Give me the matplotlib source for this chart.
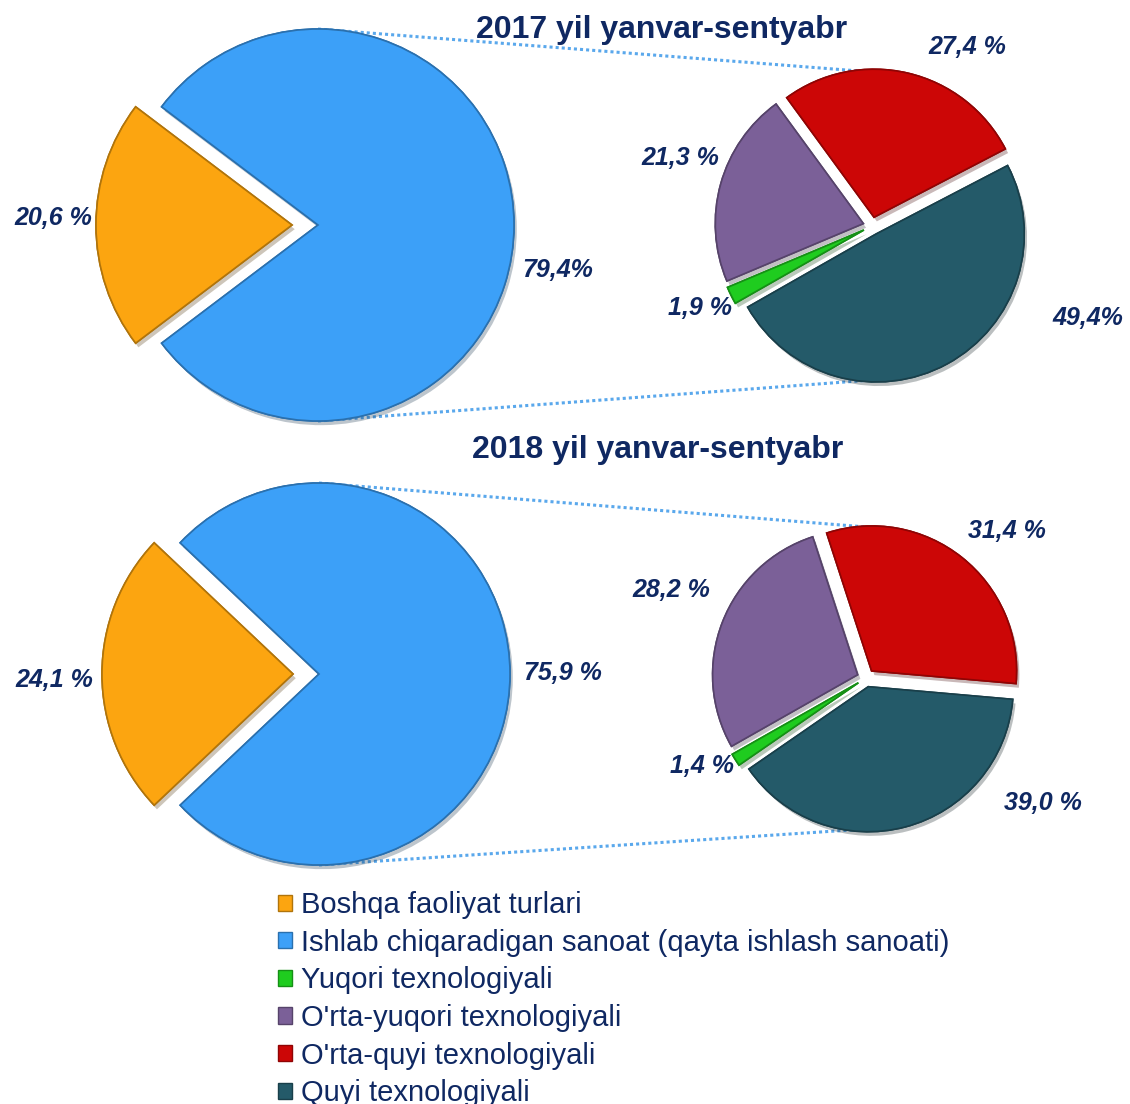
import matplotlib

matplotlib.use("Agg")
import matplotlib.pyplot as plt
import matplotlib.patheffects as pe
from matplotlib.colors import to_rgb
from matplotlib.patches import Patch

plt.rcParams["font.family"] = ["Liberation Sans", "DejaVu Sans"]

# --- data -------------------------------------------------------------
TITLES = ["2017 yil yanvar-sentyabr", "2018 yil yanvar-sentyabr"]

# main pie: [Boshqa faoliyat turlari, Ishlab chiqaradigan sanoat]
MAIN_2017 = [20.6, 79.4]
MAIN_2018 = [24.1, 75.9]
MAIN_LABELS_2017 = ["20,6 %", "79,4%"]
MAIN_LABELS_2018 = ["24,1 %", "75,9 %"]

# breakdown of manufacturing: [O'rta-quyi, O'rta-yuqori, Yuqori, Quyi]
SUB_2017 = [27.4, 21.3, 1.9, 49.4]
SUB_2018 = [31.4, 28.2, 1.4, 39.0]
SUB_LABELS_2017 = ["27,4 %", "21,3 %", "1,9 %", "49,4%"]
SUB_LABELS_2018 = ["31,4 %", "28,2 %", "1,4 %", "39,0 %"]

LEGEND = ["Boshqa faoliyat turlari",
          "Ishlab chiqaradigan sanoat (qayta ishlash sanoati)",
          "Yuqori texnologiyali",
          "O'rta-yuqori texnologiyali",
          "O'rta-quyi texnologiyali",
          "Quyi texnologiyali"]

# --- style ------------------------------------------------------------
ORANGE, BLUE, GREEN = "#fca510", "#3ca0f8", "#1fcc1f"
PURPLE, RED, TEAL = "#7b6098", "#cc0606", "#245a69"
NAVY = "#0f2862"
LINE = "#5aa8ec"
W, H = 1130, 1104


def Y(y):
    """pixel row (top-down) -> data y (bottom-up)"""
    return H - y


def darker(c, f=0.7):
    return tuple(v * f for v in to_rgb(c))


fig = plt.figure(figsize=(W / 100, H / 100), dpi=100)
ax = fig.add_axes([0, 0, 1, 1])

SHADOW = [pe.withSimplePatchShadow(offset=(2, -3), alpha=0.28), pe.Normal()]


def draw_pair(main, main_lbl, sub, sub_lbl, title, big, small, title_xy,
              main_pos, sub_pos, start_sub):
    (bx, by, br), (sx, sy, sr) = big, small
    # connector lines (top and bottom of both pies)
    ax.plot([bx, sx], [Y(by) + br, Y(sy) + sr + 6], ls=(0, (1, 1)), lw=2.2,
            color=LINE, zorder=1)
    ax.plot([bx, sx], [Y(by) - br, Y(sy) - sr - 6], ls=(0, (1, 1)), lw=2.2,
            color=LINE, zorder=1)

    # pie explode offsets are in data units (pixels here)
    start_main = 180 - main[0] * 3.6 / 2
    w1, _ = ax.pie(main, colors=[ORANGE, BLUE], radius=br, center=(bx, Y(by)),
                   startangle=start_main, explode=[26, 0], frame=True,
                   wedgeprops=dict(linewidth=1.2))
    w2, _ = ax.pie(sub, colors=[RED, PURPLE, GREEN, TEAL], radius=sr,
                   center=(sx, Y(sy)), startangle=start_sub,
                   explode=[9] * 4, frame=True,
                   wedgeprops=dict(linewidth=1.2))
    for w in list(w1) + list(w2):
        w.set_edgecolor(darker(w.get_facecolor()))
        w.set_path_effects(SHADOW)
        w.set_zorder(2)

    ax.text(title_xy[0], Y(title_xy[1]), title, ha="center", va="center",
            fontsize=23, fontweight="bold", color=NAVY, zorder=3)
    for txt, (x, y) in zip(main_lbl + sub_lbl, main_pos + sub_pos):
        ax.text(x, Y(y), txt, ha="center", va="center", fontsize=18,
                fontweight="bold", fontstyle="italic", color=NAVY, zorder=3)


draw_pair(MAIN_2017, MAIN_LABELS_2017, SUB_2017, SUB_LABELS_2017, TITLES[0],
          big=(318, 225, 196), small=(872, 226, 148), title_xy=(662, 30),
          main_pos=[(53, 218), (558, 270)],
          sub_pos=[(967, 47), (680, 158), (700, 308), (1088, 318)],
          start_sub=27.5)
draw_pair(MAIN_2018, MAIN_LABELS_2018, SUB_2018, SUB_LABELS_2018, TITLES[1],
          big=(319, 674, 191), small=(866, 678, 145), title_xy=(658, 450),
          main_pos=[(54, 680), (563, 673)],
          sub_pos=[(1007, 531), (671, 590), (702, 766), (1043, 803)],
          start_sub=-5)

handles = [Patch(facecolor=c, edgecolor=darker(c), linewidth=1)
           for c in [ORANGE, BLUE, GREEN, PURPLE, RED, TEAL]]
ax.legend(handles, LEGEND, loc="upper left",
          bbox_to_anchor=(278 / W, 1 - 891 / H), frameon=False, fontsize=21,
          labelcolor=NAVY, handlelength=0.48, handleheight=0.48,
          handletextpad=0.3, labelspacing=0.33, borderpad=0, borderaxespad=0)

ax.set_xlim(0, W)
ax.set_ylim(0, H)
ax.set_aspect("equal")
ax.axis("off")
fig.savefig("out.png", dpi=100, facecolor="white")
